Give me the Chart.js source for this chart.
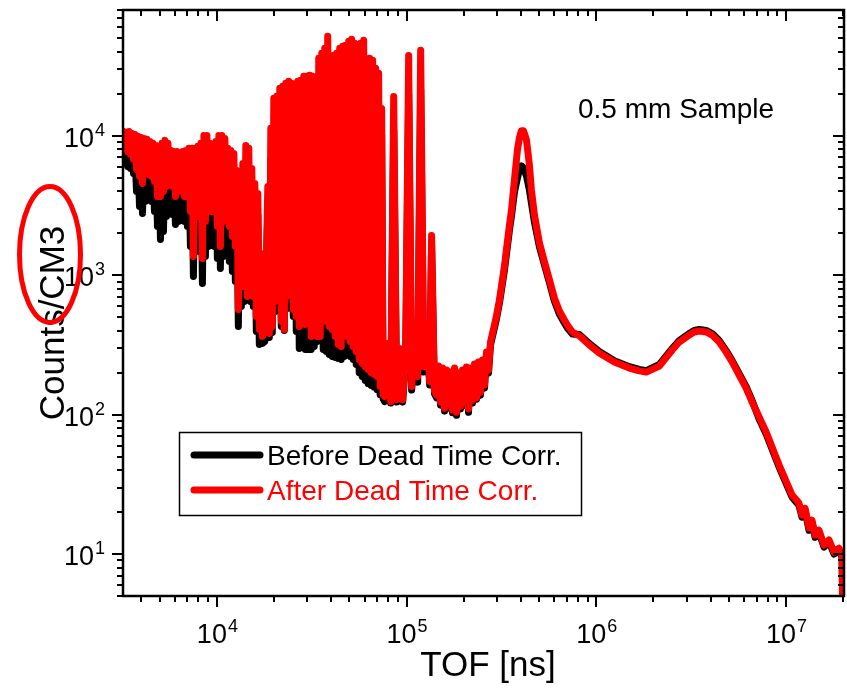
<!DOCTYPE html>
<html>
<head>
<meta charset="utf-8">
<script src="https://cdn.jsdelivr.net/npm/chart.js@4.4.1/dist/chart.umd.min.js"></script>
<style>
  html, body { margin: 0; padding: 0; background: #fff; }
  #wrap { width: 847px; height: 688px; }
</style>
</head>
<body>
<div id="wrap"><canvas id="tofChart" width="847" height="688"></canvas></div>
<script>
// TOF values [ns]
const tof = [
  3201, 3260, 3320, 3381, 3443, 3506, 3570, 3636, 3702, 3770,
  3839, 3909, 3981, 4054, 4128, 4204, 4281, 4360, 4440, 4521,
  4604, 4688, 4774, 4862, 4951, 5042, 5134, 5229, 5324, 5422,
  5522, 5623, 5726, 5831, 5938, 6047, 6158, 6271, 6386, 6503,
  6623, 6744, 6868, 6994, 7122, 7253, 7386, 7521, 7659, 7800,
  7943, 8088, 8237, 8388, 8542, 8699, 8858, 9021, 9187, 9355,
  9527, 9701, 9880, 10061, 10245, 10433, 10625, 10819, 11018, 11220,
  11425, 11635, 11848, 12066, 12287, 12512, 12742, 12975, 13213, 13455,
  13702, 13953, 14209, 14470, 14735, 15005, 15280, 15561, 15849, 16139,
  16436, 16737, 17044, 17357,
  // resonance forest
  17890, 18553, 18893, 19240, 19592, 19953, 20318, 20691, 21071, 21457,
  21850, 22251, 22660, 23075, 23498, 23930, 24368, 24815, 25271, 25734,
  26206, 26687, 27176, 27675, 28184, 28700, 29226, 29763, 30308, 30864,
  31431, 32007, 32594, 33191, 33800, 34420, 35052, 35694, 36349, 37016,
  37695, 38386, 39090, 39811, 40540, 41284, 42041, 42812, 43597, 44397,
  45211, 46041, 46884, 47745, 48620, 49512, 50420, 51345, 52286, 53245,
  54222, 55216, 56234, 57264, 58315, 59384, 60473, 61582, 62711, 63862,
  65033, 66226, 67441, 68678, 69938, 71220, 72526, 73857, 75212, 76590,
  79490, 82430, 85490, 88650, 91940, 95340, 98870, 102500, 106300, 110300,
  114400, 118600, 123000, 127600, 132300, 135400, 140300,
  143900, 147400, 151000, 154700, 158500, 162400, 166300, 170400, 174600, 178900,
  183300, 187800, 192400, 197100, 202000, 206900, 212000, 217200, 222500, 228000,
  233600, 239300, 245200, 251200, 257400, 263700, 270200, 276800,
  // thermal peak and tail
  297600, 308600, 328000, 348500, 357100, 370200, 383900, 393200, 402700, 412800,
  428300, 443700, 454800, 471700, 501200, 532600, 566200, 601000, 638300, 678500,
  703600, 747600, 814700, 918300, 1036000, 1244000, 1493000, 1684000, 1834000, 2148000,
  2512000, 2734000, 3085000, 3280000, 3484000, 3793000, 4080000, 4441000, 4832000, 5198000,
  5660000, 6159000, 6627000, 7211000, 7852000, 9190000, 10760000, 11690000, 12130000, 12590000,
  13210000, 13700000, 14220000, 14920000, 15850000, 16840000, 17910000, 19010000, 19730000, 19950000
];

const beforeCorr = [
  7550, 6346, 7430, 6040, 7550, 5844, 7305, 5381, 7185, 3997,
  6953, 3118, 6839, 2777, 6726, 3387, 6616, 3679, 6402, 3387,
  6193, 2871, 5993, 2240, 5797, 1807, 6193, 2063, 6507, 2643,
  6193, 2871, 5515, 2733, 5425, 2316, 5425, 2434, 5248, 2643,
  5425, 2434, 5515, 2240, 5701, 1609, 5701, 980, 5701, 1609,
  5893, 1482, 6193, 873, 7068, 1364, 7068, 1609, 6193, 1692,
  5893, 1609, 6402, 1320, 7068, 1119, 7068, 1364, 6726, 1482,
  5701, 1256, 5515, 1065, 5248, 903, 3963, 429, 3771, 597,
  4449, 648, 5993, 670, 5701, 648, 4097, 597, 3196, 395,
  2710, 319, 1091, 324,
  335, 2940, 358, 6730, 388, 11000, 550, 11400, 578, 13000,
  429, 13470, 402, 14160, 578, 14880, 638, 14160, 506, 13470,
  395, 14880, 298, 15370, 308, 16400, 293, 16400, 293, 16700,
  293, 16400, 308, 14880, 335, 21400, 346, 23200, 293, 25200,
  284, 29800, 270, 14160, 261, 22100, 257, 23200, 253, 25200,
  249, 26000, 261, 26000, 275, 27400, 261, 28300, 249, 26900,
  229, 25200, 200, 26900, 188, 27800, 176, 1400, 167, 21400,
  162, 20700, 157, 18100, 151, 16700, 139, 10200, 130, 124,
  291, 121, 11000, 123, 268, 123, 255, 19700, 150, 291,
  171, 21400, 202, 405, 163, 1650, 141,
  132, 212, 117, 206, 106, 199, 111, 192, 103, 206,
  99, 189, 110, 199, 117, 209, 104, 206, 121, 220,
  129, 227, 138, 235, 155, 268, 199, 316,
  486, 633, 1090, 2120, 2670, 3960, 4990, 5700, 6100, 5890,
  5160, 4100, 3300, 2410, 1600, 1190, 881, 654, 527, 455,
  419, 379, 376, 324, 284, 244, 221, 211, 207, 229,
  298, 340, 382, 402, 408, 402, 382, 340, 288, 244,
  197, 159, 126, 93, 72.6, 42.1, 25.6, 22.4, 18.4, 20.6,
  14.8, 16.9, 13.2, 14.3, 11.2, 12.2, 10.0, 10.7, 9.4, 3
];

const afterCorr = [
  10770, 8409, 10590, 7738, 10770, 7365, 10420, 6782, 10250, 5749,
  9920, 5121, 9754, 4560, 9596, 5562, 9440, 5291, 9131, 5121,
  8836, 4714, 8548, 3679, 8270, 3679, 8836, 3997, 9284, 4340,
  8836, 4714, 7867, 4340, 7738, 3679, 7738, 3997, 7487, 3997,
  7738, 3679, 7867, 3679, 8136, 2871, 8136, 1364, 8136, 2871,
  8409, 2643, 8836, 1320, 10080, 2434, 10080, 2871, 8836, 2871,
  8409, 2871, 9131, 2240, 10080, 1609, 10080, 2434, 9596, 2643,
  8136, 2240, 7867, 1899, 7487, 1609, 5654, 568, 5381, 831,
  6346, 831, 8548, 704, 8136, 765, 5844, 704, 4560, 506,
  3866, 408, 1434, 364,
  398, 4340, 382, 11320, 429, 18590, 648, 19210, 704, 21930,
  466, 22670, 408, 23820, 704, 24620, 1013, 23820, 568, 23040,
  506, 24620, 429, 25020, 466, 26740, 444, 26740, 451, 27190,
  364, 26740, 395, 24620, 364, 36010, 364, 39120, 532, 42480,
  466, 51800, 429, 23820, 408, 37840, 364, 39120, 319, 42480,
  308, 43910, 364, 44640, 408, 47700, 335, 49300, 308, 46140,
  284, 42480, 249, 46140, 233, 48480, 221, 1692, 211, 36010,
  200, 34830, 194, 30520, 188, 28100, 159, 15750, 139, 135,
  324, 124, 19200, 128, 298, 128, 275, 37800, 159, 324,
  188, 41100, 221, 440, 173, 1930, 147,
  138, 223, 123, 216, 111, 209, 117, 202, 108, 216,
  104, 199, 115, 209, 123, 220, 110, 216, 127, 231,
  132, 239, 145, 247, 163, 281, 209, 332,
  511, 665, 1170, 2300, 2940, 4830, 7940, 9680, 10900, 10900,
  9360, 6190, 4100, 2710, 1710, 1250, 925, 687, 555, 478,
  440, 392, 367, 316, 277, 239, 216, 206, 202, 223,
  291, 332, 372, 392, 398, 392, 372, 332, 281, 239,
  192, 155, 123, 96.1, 75, 43.5, 26.5, 23.2, 19.0, 21.3,
  15.4, 17.5, 13.7, 14.8, 11.6, 12.6, 10.3, 11.0, 9.7, 3
];

const xDecades = [1e4, 1e5, 1e6, 1e7];
const xExponents = ['4', '5', '6', '7'];
const yDecades = [10, 100, 1000, 10000];
const yExponents = ['1', '2', '3', '4'];
const legendLabels = ['Before Dead Time Corr.', 'After Dead Time Corr.'];
const sampleNote = '0.5 mm Sample';
const xTitle = 'TOF [ns]';
const yTitle = 'Counts/CM3';

const FONT = '"Liberation Sans", Arial, sans-serif';

// all 1..9 x 10^n positions inside [min, max]
const logTicks = (min, max) => {
    const out = [];
    for (let e = Math.floor(Math.log10(min)); e <= Math.ceil(Math.log10(max)); e++) {
        for (let m = 1; m <= 9; m++) {
            const v = m * Math.pow(10, e);
            if (v >= min * 0.999 && v <= max * 1.001) out.push({ v, major: m === 1 });
        }
    }
    return out;
};

const drawPower = (ctx, exp, x, baseY, centered) => {
    ctx.font = '27px ' + FONT;
    const wb = ctx.measureText('10').width;
    ctx.font = '18px ' + FONT;
    const we = ctx.measureText(exp).width;
    const x0 = centered ? x - (wb + we) / 2 : x;
    ctx.textAlign = 'left';
    ctx.textBaseline = 'alphabetic';
    ctx.font = '27px ' + FONT;
    ctx.fillText('10', x0, baseY);
    ctx.font = '18px ' + FONT;
    ctx.fillText(exp, x0 + wb + 1, baseY - 11);
};

const originFrame = {
    id: 'originFrame',
    afterDraw(chart) {
        const { ctx, chartArea: a, scales: { x, y } } = chart;
        ctx.save();
        ctx.fillStyle = '#000';
        ctx.strokeStyle = '#000';

        const line = (x1, y1, x2, y2) => {
            ctx.beginPath();
            ctx.moveTo(x1, y1);
            ctx.lineTo(x2, y2);
            ctx.stroke();
        };

        // ticks: out on bottom/left, in on top/right
        ctx.lineWidth = 2;
        logTicks(x.min, x.max).forEach(t => {
            const px = Math.round(x.getPixelForValue(t.v));
            const len = t.major ? 11 : 6;
            line(px, a.bottom, px, a.bottom + len);
            line(px, a.top, px, a.top + len);
        });
        logTicks(y.min, y.max).forEach(t => {
            const py = Math.round(y.getPixelForValue(t.v));
            const len = t.major ? 11 : 6;
            line(a.left - len, py, a.left, py);
            line(a.right - len, py, a.right, py);
        });

        ctx.lineWidth = 2.5;
        ctx.strokeRect(a.left, a.top, a.right - a.left, a.bottom - a.top);

        // tick labels
        xDecades.forEach((v, i) => {
            drawPower(ctx, xExponents[i], x.getPixelForValue(v), 643, true);
        });
        yDecades.forEach((v, i) => {
            drawPower(ctx, yExponents[i], 64, y.getPixelForValue(v) + 11, false);
        });

        // axis titles
        ctx.font = '35px ' + FONT;
        ctx.textAlign = 'center';
        ctx.fillText(xTitle, 488, 676);
        ctx.save();
        ctx.translate(64, 323);
        ctx.rotate(-Math.PI / 2);
        ctx.fillText(yTitle, 0, 0);
        ctx.restore();

        // note
        ctx.font = '28px ' + FONT;
        ctx.textAlign = 'left';
        ctx.fillText(sampleNote, 578, 118);

        // legend box
        ctx.lineWidth = 1.5;
        ctx.strokeRect(179.5, 432.5, 402, 83);
        const rows = [chart.data.datasets[0], chart.data.datasets[1]];
        rows.forEach((ds, i) => {
            const ly = 455 + i * 35;
            ctx.strokeStyle = ds.borderColor;
            ctx.lineWidth = 7;
            ctx.lineCap = 'round';
            line(194, ly, 260, ly);
            ctx.fillStyle = ds.borderColor;
            ctx.font = '28px ' + FONT;
            ctx.fillText(ds.label, 267, ly + 10);
        });

        // hand-drawn red ring round the unit
        ctx.strokeStyle = '#ff0000';
        ctx.lineWidth = 5;
        ctx.beginPath();
        ctx.ellipse(50, 254.5, 30.5, 68, 0, 0, Math.PI * 2);
        ctx.stroke();

        ctx.restore();
    }
};

new Chart(document.getElementById('tofChart'), {
    type: 'line',
    data: {
        datasets: [{
            label: legendLabels[0],
            data: tof.map((t, i) => ({ x: t, y: beforeCorr[i] })),
            borderColor: '#000000',
            order: 2,
        }, {
            label: legendLabels[1],
            data: tof.map((t, i) => ({ x: t, y: afterCorr[i] })),
            borderColor: '#ff0000',
            order: 1,
        }]
    },
    options: {
        responsive: false,
        animation: false,
        layout: { padding: { left: 123, right: 3, top: 10, bottom: 92 } },
        elements: {
            point: { radius: 0 },
            line: { borderWidth: 7, borderJoinStyle: 'round', borderCapStyle: 'round', tension: 0 },
        },
        scales: {
            x: { type: 'logarithmic', min: 3200, max: 2.02e7, display: false },
            y: { type: 'logarithmic', min: 5, max: 80000, display: false },
        },
        plugins: {
            legend: { display: false },
            tooltip: { enabled: false },
        },
    },
    plugins: [originFrame],
});
</script>
</body>
</html>
